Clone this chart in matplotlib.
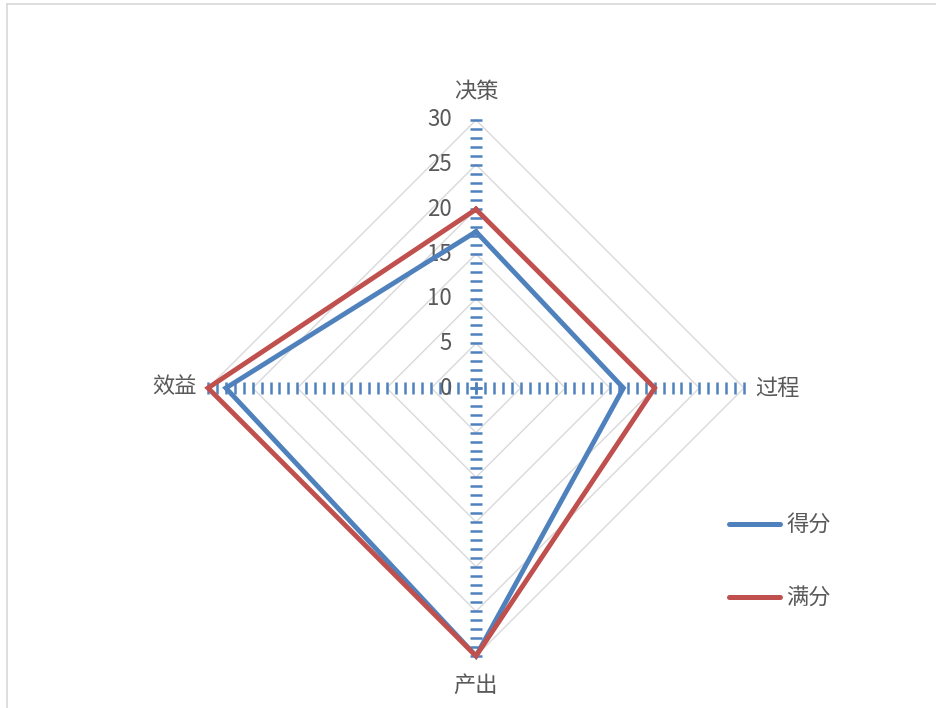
import numpy as np
import matplotlib
matplotlib.use("Agg")
import matplotlib.pyplot as plt
from matplotlib.lines import Line2D

plt.rcParams['font.family'] = ['Noto Sans CJK SC', 'DejaVu Sans']

categories = ['决策', '过程', '产出', '效益']
score = [17.5, 16.5, 30, 28]      # 得分
full = [20, 20, 30, 30]           # 满分
series_names = ['得分', '满分']
rings = [5, 10, 15, 20, 25, 30]
tick_labels = ['0', '5', '10', '15', '20', '25', '30']

blue = '#4F81BD'
red = '#C0504D'
grid_c = '#D9D9D9'
text_c = '#595959'

W, H = 937, 708
cx, cy = 476, 388          # centre in pixels
px = 268 / 30              # pixels per unit

fig = plt.figure(figsize=(W / 100, H / 100), dpi=100)
ax = fig.add_axes([0, 0, 1, 1])
ax.set_xlim(-cx / px, (W - cx) / px)
ax.set_ylim(-(H - cy) / px, cy / px)
ax.axis('off')

# angles: top, right, bottom, left (clockwise)
ang = np.pi / 2 - np.arange(len(categories)) * 2 * np.pi / len(categories)
ca, sa = np.cos(ang), np.sin(ang)

def closed(vals):
    v = np.asarray(vals, dtype=float)
    x, y = v * ca, v * sa
    return np.append(x, x[0]), np.append(y, y[0])

# diamond grid
for r in rings:
    gx, gy = closed([r] * len(categories))
    ax.plot(gx, gy, color=grid_c, lw=1.0, zorder=1)

# axes drawn as tick dashes
steps = np.arange(0, 31, 1)
for i in range(len(categories)):
    m = '_' if abs(ca[i]) < 0.5 else '|'
    ax.plot(steps * ca[i], steps * sa[i], ls='none', marker=m,
            ms=8, mew=1.8, color=blue, zorder=2)

# tick labels on the vertical axis
for r, lab in zip(range(0, 31, 5), tick_labels):
    ax.text(-2.7, r, lab, ha='right', va='center', fontsize=16,
            color=text_c, zorder=3)

# category labels
offs = [(0, 3.2, 'center', 'center'), (1.3, 0.0, 'left', 'center'),
        (0, -3.3, 'center', 'center'), (-1.3, 0.2, 'right', 'center')]
for i, lab in enumerate(categories):
    dx, dy, ha, va = offs[i]
    ax.text(30 * ca[i] + dx, 30 * sa[i] + dy, lab, ha=ha, va=va,
            fontsize=16, color=text_c)

# series
bx, by = closed(score)
ax.plot(bx, by, color=blue, lw=3.5, solid_joinstyle='miter', zorder=4)
rx, ry = closed(full)
ax.plot(rx, ry, color=red, lw=3.5, solid_joinstyle='miter', zorder=5)

# legend
for name, col, yy in zip(series_names, [blue, red], [524, 597]):
    fig.add_artist(Line2D([729 / W, 780 / W], [1 - yy / H, 1 - yy / H],
                          color=col, lw=3.6, solid_capstyle='round'))
    fig.text(786 / W, 1 - yy / H, name, ha='left', va='center',
             fontsize=16, color=text_c)

# frame (left and top edges)
fig.add_artist(Line2D([7 / W, 7 / W], [0, 1 - 4 / H], color='#D9D9D9', lw=1.2))
fig.add_artist(Line2D([7 / W, 1], [1 - 4 / H, 1 - 4 / H], color='#D9D9D9', lw=1.2))

fig.savefig('out.png', dpi=100, facecolor='white')
